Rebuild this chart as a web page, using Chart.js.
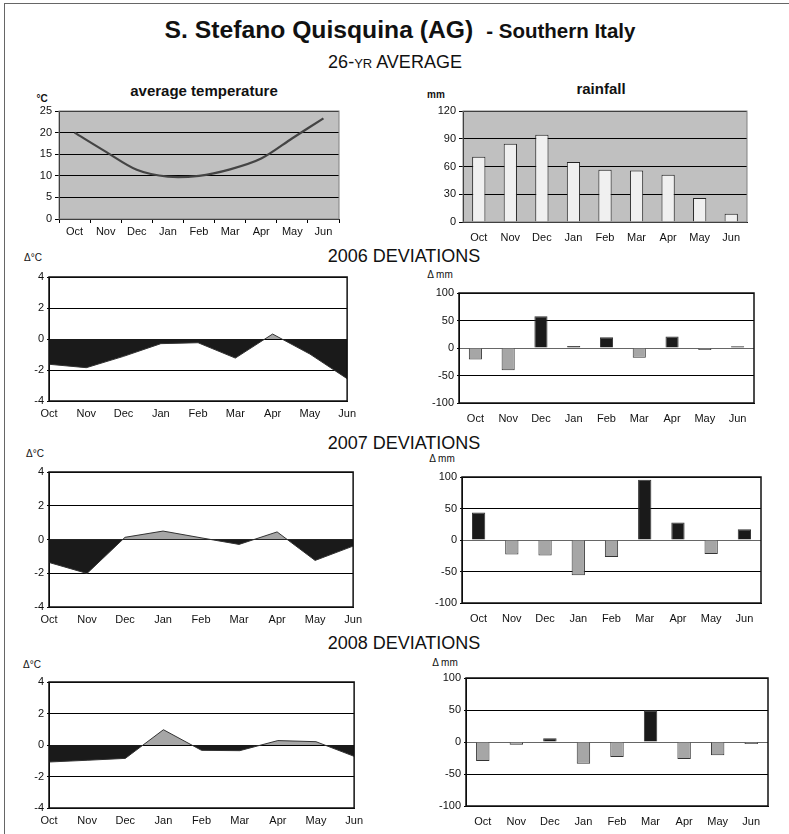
<!DOCTYPE html>
<html>
<head>
<meta charset="utf-8">
<script src="https://cdn.jsdelivr.net/npm/chart.js@4/dist/chart.umd.min.js"></script>
<style>
  html, body { margin:0; padding:0; background:#fff; overflow:hidden; }
  body { width:789px; height:834px; position:relative; font-family:"Liberation Sans", Arial, sans-serif; color:#111; }
  #frame { position:absolute; left:4px; top:3px; width:800px; height:850px; border:1.5px solid #666; }
  canvas { position:absolute; }
  .t { position:absolute; transform:translate(-50%,-50%); white-space:nowrap; }
  .head { font-size:18px; }
  .sub { font-size:15px; font-weight:bold; }
  .unit { font-size:10px; }
</style>
</head>
<body>
<div id="frame"></div>

<div class="t" style="left:400px;top:30px;"><span style="font-size:24.7px;font-weight:bold;">S. Stefano Quisquina (AG)</span><span style="font-size:20.5px;font-weight:bold;margin-left:13px;">- Southern Italy</span></div>
<div class="t head" style="left:395px;top:62px;">26-<span style="font-size:13px;">YR</span> AVERAGE</div>
<div class="t sub" style="left:204px;top:90px;">average temperature</div>
<div class="t sub" style="left:601px;top:88px;">rainfall</div>
<div class="t unit" style="left:42px;top:98px;font-weight:bold;">°C</div>
<div class="t unit" style="left:436px;top:94px;font-weight:bold;">mm</div>

<div class="t head" style="left:404px;top:256px;">2006 DEVIATIONS</div>
<div class="t unit" style="left:33px;top:257px;">Δ°C</div>
<div class="t unit" style="left:440px;top:274px;">Δ mm</div>

<div class="t head" style="left:404px;top:443px;">2007 DEVIATIONS</div>
<div class="t unit" style="left:35px;top:453px;">Δ°C</div>
<div class="t unit" style="left:442px;top:458px;">Δ mm</div>

<div class="t head" style="left:404px;top:643px;">2008 DEVIATIONS</div>
<div class="t unit" style="left:32px;top:664px;">Δ°C</div>
<div class="t unit" style="left:445px;top:662px;">Δ mm</div>

<canvas id="avgT"></canvas>
<canvas id="avgR"></canvas>
<canvas id="t2006"></canvas>
<canvas id="r2006"></canvas>
<canvas id="t2007"></canvas>
<canvas id="r2007"></canvas>
<canvas id="t2008"></canvas>
<canvas id="r2008"></canvas>

<script>
// mesi della stagione (ottobre - giugno)
var months = ['Oct','Nov','Dec','Jan','Feb','Mar','Apr','May','Jun'];

// medie di 26 anni
var avgTemp = [20.0, 15.6, 11.4, 9.8, 10.0, 11.5, 14.0, 18.7, 23.3];
var avgRain = [70.5, 84.6, 94.3, 65, 56.4, 55.7, 51, 26, 9];

// scarti di temperatura (°C)
var devTemp2006 = [-1.63, -1.85, -1.12, -0.3, -0.24, -1.23, 0.32, -0.97, -2.56];
var devTemp2007 = [-1.36, -2.01, 0.13, 0.5, 0.1, -0.29, 0.45, -1.24, -0.39];
var devTemp2008 = [-1.08, -0.97, -0.85, 0.97, -0.34, -0.36, 0.28, 0.21, -0.72];

// scarti di pioggia (mm)
var devRain2006 = [-21, -40.6, 57.6, 3.6, 19.4, -17.6, 21, -3.6, 3];
var devRain2007 = [43.6, -22.9, -24.5, -55.9, -27, 95.7, 27.7, -22.3, 17];
var devRain2008 = [-29.7, -4.2, 5.7, -33.9, -23.4, 49.5, -26.6, -20.8, -3.1];

// tick degli assi
var avgTempTicks = {min:0, max:25, step:5};
var avgRainTicks = {min:0, max:120, step:30};
var devTempTicks = {min:-4, max:4, step:2};
var devRainTicks = {min:-100, max:100, step:50};

Chart.defaults.font.family = '"Liberation Sans", Arial, sans-serif';
Chart.defaults.font.size = 11;
Chart.defaults.color = '#111';

// sfondo grigio e cornice dell'area del grafico
function areaPlugin(bg, frameColor, frameWidth){
    return {
        id: 'area',
        beforeDraw: function(chart){
            if (!bg) return;
            var a = chart.chartArea, ctx = chart.ctx;
            ctx.save();
            ctx.fillStyle = bg;
            ctx.fillRect(a.left, a.top, a.right - a.left, a.bottom - a.top);
            ctx.restore();
        },
        afterDraw: function(chart){
            var a = chart.chartArea, ctx = chart.ctx;
            ctx.save();
            ctx.strokeStyle = frameColor;
            ctx.lineWidth = frameWidth;
            ctx.strokeRect(a.left, a.top, a.right - a.left, a.bottom - a.top);
            ctx.restore();
        }
    };
}

// posiziona il canvas in modo che l'area del grafico cada sul box [l,t,r,b]
function make(id, box, cfg, plugin){
    var c = document.getElementById(id);
    var l = box[0], t = box[1], r = box[2], b = box[3];
    c.width = (r - l) + 40 + 14;
    c.height = (b - t) + 10 + 30;
    c.style.left = (l - 40) + 'px';
    c.style.top = (t - 10) + 'px';
    cfg.options.responsive = false;
    cfg.options.animation = false;
    cfg.options.layout = {padding: {top:10, right:14, left:0, bottom:0}};
    cfg.options.plugins = {legend:{display:false}, tooltip:{enabled:false}};
    cfg.options.scales.y.afterFit = function(s){ s.width = 40; };
    cfg.options.scales.x.afterFit = function(s){ s.height = 30; };
    cfg.plugins = [plugin];
    return new Chart(c, cfg);
}

function yScale(tk, tickLen, gridColor){
    return {
        min: tk.min, max: tk.max,
        ticks: {stepSize: tk.step, padding: 3, color:'#111'},
        grid: {color: gridColor, lineWidth: 1, tickLength: tickLen, tickColor:'#000'},
        border: {display: true, color:'#000', width: 1}
    };
}

// media temperatura
make('avgT', [59, 111, 339, 219], {
    type: 'line',
    data: {labels: months, datasets: [{
        data: avgTemp, borderColor:'#444', borderWidth: 2.2, pointRadius: 0, tension: 0.3, fill: false
    }]},
    options: {scales: {
        x: {offset: true, grid: {display: true, offset: true, drawOnChartArea: false, tickLength: 4, color:'#000'},
            ticks: {padding: 2}, border: {display:true, color:'#000'}},
        y: yScale(avgTempTicks, 4, '#000')
    }}
}, areaPlugin('#c0c0c0', '#808080', 1));

// media pioggia
make('avgR', [463, 111, 747, 222], {
    type: 'bar',
    data: {labels: months, datasets: [{
        data: avgRain, backgroundColor:'#f0f0f0', borderColor:'#222', borderWidth: 1,
        categoryPercentage: 1, barPercentage: 0.42
    }]},
    options: {scales: {
        x: {grid: {display: false, drawTicks: false, tickLength: 0},
            ticks: {padding: 9}, border: {display:true, color:'#000'}},
        y: yScale(avgRainTicks, 4, '#000')
    }}
}, areaPlugin('#c0c0c0', '#808080', 1));

// scarti temperatura: area sopra lo zero grigia, sotto nera
function tempDev(id, box, values){
    make(id, box, {
        type: 'line',
        data: {labels: months, datasets: [{
            data: values, borderColor:'#333', borderWidth: 1, pointRadius: 0, tension: 0,
            fill: {target: 'origin', above: '#a6a6a6', below: '#1a1a1a'}
        }]},
        options: {scales: {
            x: {offset: false, grid: {display: false, drawTicks: false, tickLength: 0},
                ticks: {padding: 6}, border: {display:true, color:'#000'}},
            y: yScale(devTempTicks, 2, '#000')
        }}
    }, areaPlugin(null, '#111', 1.5));
}

// scarti pioggia: barre positive nere, negative grigie
function rainDev(id, box, values){
    make(id, box, {
        type: 'bar',
        data: {labels: months, datasets: [{
            data: values,
            backgroundColor: values.map(function(v){ return v >= 0 ? '#1a1a1a' : '#a6a6a6'; }),
            borderColor: '#333', borderWidth: 1,
            categoryPercentage: 1, barPercentage: 0.4
        }]},
        options: {scales: {
            x: {grid: {display: false, drawTicks: false, tickLength: 0},
                ticks: {padding: 9}, border: {display:true, color:'#000'}},
            y: {
                min: devRainTicks.min, max: devRainTicks.max,
                ticks: {stepSize: devRainTicks.step, padding: 3, color:'#111'},
                grid: {color: function(c){ return c.tick && c.tick.value === 0 ? '#666' : '#000'; },
                       lineWidth: 1, tickLength: 2, tickColor:'#000'},
                border: {display: true, color:'#000'}
            }
        }}
    }, areaPlugin(null, '#111', 1.5));
}

tempDev('t2006', [49, 277, 348, 401], devTemp2006);
rainDev('r2006', [459, 293, 754, 403], devRain2006);
tempDev('t2007', [49, 472, 354, 607], devTemp2007);
rainDev('r2007', [462, 477, 761, 603], devRain2007);
tempDev('t2008', [49, 682, 355, 808], devTemp2008);
rainDev('r2008', [466, 678, 768, 806], devRain2008);
</script>
</body>
</html>
